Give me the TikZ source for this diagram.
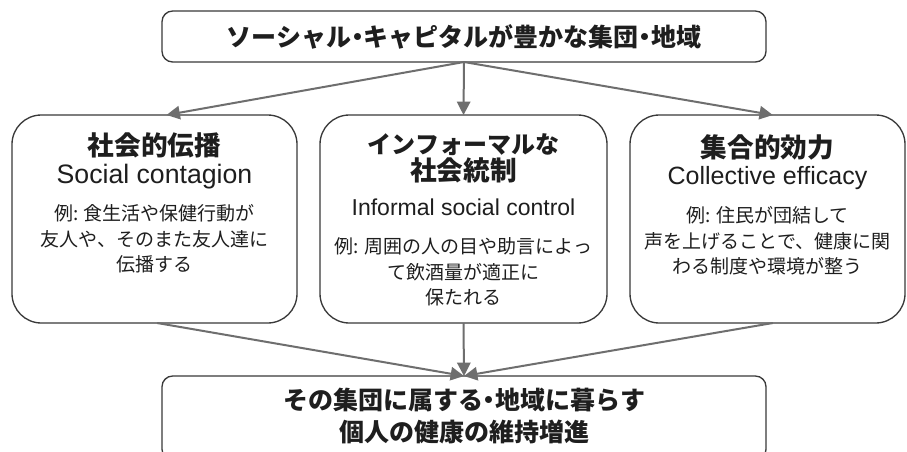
\documentclass[tikz,border=0pt]{standalone}
\usepackage{fontspec}
\setmainfont{Liberation Sans}
\newfontfamily\jp{Noto Sans CJK JP}
\usetikzlibrary{arrows.meta}
\definecolor{boxline}{HTML}{3A3A3A}
\definecolor{arr}{HTML}{6E6E6E}
\definecolor{txt}{HTML}{1E1E1E}
\newcommand{\nd}{\kern-0.25em・\kern-0.25em}
\begin{document}
\begin{tikzpicture}[x=0.75pt,y=-0.75pt,
  smallbox/.style={draw=boxline,line width=1pt,rounded corners=8pt,inner sep=0pt,outer sep=0pt},
  bigbox/.style={draw=boxline,line width=1pt,rounded corners=22pt,inner sep=0pt,outer sep=0pt,minimum height=156pt},
  ttl/.style={text=txt,inner sep=0pt,align=center,font={\jp\bfseries\fontsize{18.75pt}{20.5pt}\selectfont}},
  btl/.style={text=txt,inner sep=0pt,align=center,font={\jp\bfseries\fontsize{20pt}{20.25pt}\selectfont}},
  eng/.style={text=txt,inner sep=0pt,align=center,font={\fontsize{18.75pt}{22pt}\selectfont}},
  ex/.style={text=txt,inner sep=0pt,align=center,font={\jp\fontsize{14.25pt}{19.1pt}\selectfont}},
  conn/.style={draw=arr,line width=1.5pt,-{Triangle[length=10pt,width=10pt]}}]
\useasboundingbox (0,0) rectangle (907,451);
\clip (0,0) rectangle (907,451);
\fill[white] (0,0) rectangle (907,451);
% boxes
\node[smallbox,minimum width=453pt,minimum height=38.25pt] (T) at (464,36.5) {};
\node[bigbox,minimum width=213.75pt] (L) at (154.5,219) {};
\node[bigbox,minimum width=215.25pt] (M) at (463.5,219) {};
\node[bigbox,minimum width=206.25pt] (R) at (767.5,219) {};
\node[smallbox,minimum width=453pt,minimum height=63pt] (B) at (464,418) {};
% texts
\node[ttl] (Tt) at (464,36.5) {ソーシャル\nd キャピタルが豊かな集団\nd 地域};
\node[btl] (Lt) at (154.5,145) {社会的伝播};
\node[eng,font={\fontsize{20pt}{22pt}\selectfont}] (Le) at (154.5,177) {Social contagion};
\node[ex] (Lx) at (154.5,239) {例: 食生活や保健行動が\\友人や、そのまた友人達に\\伝播する};
\node[btl] (Mt) at (463.5,158.5) {{\fontsize{18pt}{20.25pt}\selectfont インフォーマルな}\\社会統制};
\node[eng,font={\fontsize{17.25pt}{20pt}\selectfont}] (Me) at (463.5,207) {Informal social control};
\node[ex] (Mx) at (463.5,272) {例: 周囲の人の目や助言によっ\\て飲酒量が適正に\\保たれる};
\node[btl] (Rt) at (767.5,147) {集合的効力};
\node[eng] (Re) at (767.5,178) {Collective efficacy};
\node[ex] (Rx) at (767.5,241) {例: 住民が団結して\\声を上げることで、健康に関\\わる制度や環境が整う};
\node[ttl,font={\jp\bfseries\fontsize{18.75pt}{24pt}\selectfont}] (Bt) at (464,416) {その集団に属する\nd 地域に暮らす\\個人の健康の維持増進};
% connectors
\draw[conn] (T.south) -- ([xshift=9pt]L.north);
\draw[conn] (T.south) -- (M.north);
\draw[conn] (T.south) -- ([xshift=4pt]R.north);
\draw[conn] ([xshift=2pt]L.south) -- (B.north);
\draw[conn] (M.south) -- (B.north);
\draw[conn] ([xshift=4pt]R.south) -- (B.north);
\end{tikzpicture}
\end{document}
